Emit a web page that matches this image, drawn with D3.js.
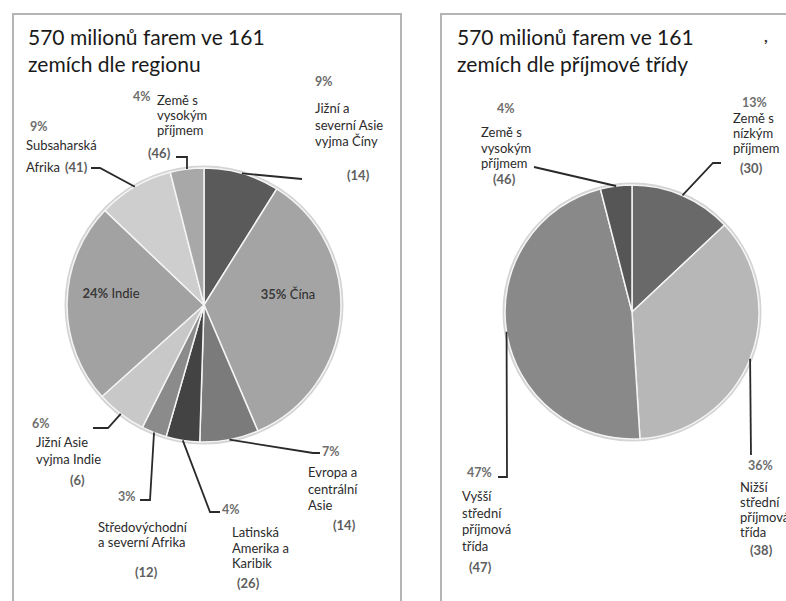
<!DOCTYPE html>
<html>
<head>
<meta charset="utf-8">
<script src="https://cdn.jsdelivr.net/npm/d3@7"></script>
<style>
  body { margin: 0; background: #fff; }
  text { font-family: Lato, "Open Sans", sans-serif; }
</style>
</head>
<body>
<svg id="chart" width="786" height="601"></svg>
<script>
// data
const regionNames = ['Jižní a\nseverní Asie\nvyjma Číny', 'Čína', 'Evropa a\ncentrální\nAsie', 'Latinská\nAmerika a\nKaribik',
  'Středovýchodní\na severní Afrika', 'Jižní Asie\nvyjma Indie', 'Indie', 'Subsaharská\nAfrika', 'Země s\nvysokým\npříjmem']
const regionShares = [9, 35, 7, 4, 3, 6, 24, 9, 4]
const regionCounts = [14, 1, 14, 26, 12, 6, 1, 41, 46]

const incomeNames = ['Země s\nnízkým\npříjmem', 'Nižší\nstřední\npříjmová\ntřída', 'Vyšší\nstřední\npříjmová\ntřída', 'Země s\nvysokým\npříjmem']
const incomeShares = [13, 36, 47, 4]
const incomeCounts = [30, 38, 47, 46]

// styles and hand placed annotation layout
const regionColors = ['#5a5a5a', '#a4a4a4', '#7b7b7b', '#434343', '#8b8b8b', '#c8c8c8', '#a2a2a2', '#cecece', '#a8a8a8']
const incomeColors = ['#696969', '#b7b7b7', '#898989', '#565656']

const regionLayout = [
  { pct: [315, 86], name: [315, 113], count: [347, 180], leader: [[302, 179]] },
  { inside: [288, 299] },
  { pct: [322, 456], name: [308, 477], count: [333, 530], leader: [[313, 453], [320, 453]] },
  { pct: [222, 514], name: [232, 537], lead: 15.5, count: [237, 588], leader: [[210, 512], [220, 512]] },
  { pct: [118, 501], name: [98, 532], lead: 15, count: [135, 577], leader: [[150, 500], [140, 500]] },
  { pct: [32, 428], name: [36, 447], count: [70, 485], leader: [[108, 428], [93, 428]] },
  { inside: [111, 298] },
  { pct: [30, 131], name: [26, 150], lead: 22, count: [65, 172], leader: [[100, 168], [91, 168]] },
  { pct: [133, 101], name: [157, 105], lead: 15, count: [148, 158], leader: [[187, 157], [176, 157]] }
]
const incomeLayout = [
  { pct: [742, 107], name: [733, 123], lead: 15, count: [740, 173], leader: [[713, 163], [721, 163]] },
  { pct: [748, 470], name: [740, 492], lead: 15, count: [750, 555], leader: [[751, 455]] },
  { pct: [467, 477], name: [462, 501], count: [469, 572], leader: [[507, 477], [498, 477]] },
  { pct: [497, 113], name: [481, 137], lead: 15.5, count: [493, 184], leader: [[534, 167]] }
]

const svg = d3.select('#chart')

// panel frames
svg.append('rect').attr('x', 13).attr('y', 14).attr('width', 388).attr('height', 600)
  .attr('fill', 'none').attr('stroke', '#b4b4b4').attr('stroke-width', 2)
svg.append('rect').attr('x', 441).attr('y', 14).attr('width', 400).attr('height', 600)
  .attr('fill', 'none').attr('stroke', '#b4b4b4').attr('stroke-width', 2)

function drawPanel(opts) {
  const g = svg.append('g')
  const data = opts.names.map((n, i) => ({ name: n, share: opts.shares[i], count: opts.counts[i], lay: opts.layout[i], color: opts.colors[i] }))

  g.selectAll('text.title').data(opts.title).enter().append('text')
    .attr('class', 'title')
    .attr('x', opts.titleX)
    .attr('y', (d, i) => 45 + i * 27)
    .attr('font-size', 21)
    .attr('fill', '#1a1a1a')
    .text(d => d)

  const pie = d3.pie().sort(null).value(d => d.share)
  const arc = d3.arc().innerRadius(0).outerRadius(opts.r)
  const edge = d3.arc().innerRadius(opts.r).outerRadius(opts.r)
  const arcs = pie(data)

  const pg = g.append('g').attr('transform', `translate(${opts.cx},${opts.cy})`)
  pg.append('circle').attr('r', opts.r + 1.5).attr('fill', '#ddd').attr('stroke', '#d4d4d4').attr('stroke-width', 2)
  pg.selectAll('path').data(arcs).enter().append('path')
    .attr('d', arc)
    .attr('fill', d => d.data.color)
    .attr('stroke', '#f4f4f4')
    .attr('stroke-width', 1.5)

  // leader lines: from the slice edge at its middle angle to the label
  const line = d3.line()
  g.selectAll('path.leader').data(arcs.filter(d => d.data.lay.leader)).enter().append('path')
    .attr('class', 'leader')
    .attr('d', d => {
      const c = edge.centroid(d)
      return line([[c[0] + opts.cx, c[1] + opts.cy]].concat(d.data.lay.leader))
    })
    .attr('fill', 'none')
    .attr('stroke', '#2a2a2a')
    .attr('stroke-width', 1.8)

  arcs.forEach(d => {
    const lay = d.data.lay
    if (lay.inside) {
      const t = g.append('text').attr('x', lay.inside[0]).attr('y', lay.inside[1])
        .attr('text-anchor', 'middle').attr('font-size', 13).attr('fill', '#2b2b2b')
      t.append('tspan').attr('font-weight', 'bold').attr('fill', '#3a3a3a').text(d.data.share + '%')
      t.append('tspan').text(' ' + d.data.name)
      return
    }
    const lead = lay.lead || 16.5
    g.append('text').attr('x', lay.pct[0]).attr('y', lay.pct[1])
      .attr('font-size', 12.5).attr('font-weight', 'bold').attr('fill', '#6e6e6e')
      .text(d.data.share + '%')
    const nt = g.append('text').attr('font-size', 13).attr('fill', '#2b2b2b')
    nt.selectAll('tspan').data(d.data.name.split('\n')).enter().append('tspan')
      .attr('x', lay.name[0])
      .attr('y', (s, i) => lay.name[1] + i * lead)
      .text(s => s)
    g.append('text').attr('x', lay.count[0]).attr('y', lay.count[1])
      .attr('font-size', 13).attr('font-weight', 'bold').attr('fill', '#5e5e5e')
      .text('(' + d.data.count + ')')
  })
}

drawPanel({
  title: ['570 milionů farem ve 161', 'zemích dle regionu'], titleX: 28,
  names: regionNames, shares: regionShares, counts: regionCounts,
  colors: regionColors, layout: regionLayout, cx: 204, cy: 305, r: 137
})

drawPanel({
  title: ['570 milionů farem ve 161', 'zemích dle příjmové třídy'], titleX: 457,
  names: incomeNames, shares: incomeShares, counts: incomeCounts,
  colors: incomeColors, layout: incomeLayout, cx: 632, cy: 312, r: 127
})

// stray mark in the source scan
svg.append('text').attr('x', 764).attr('y', 42).attr('font-size', 16).attr('font-weight', 'bold').attr('fill', '#333').text(',')
</script>
</body>
</html>
